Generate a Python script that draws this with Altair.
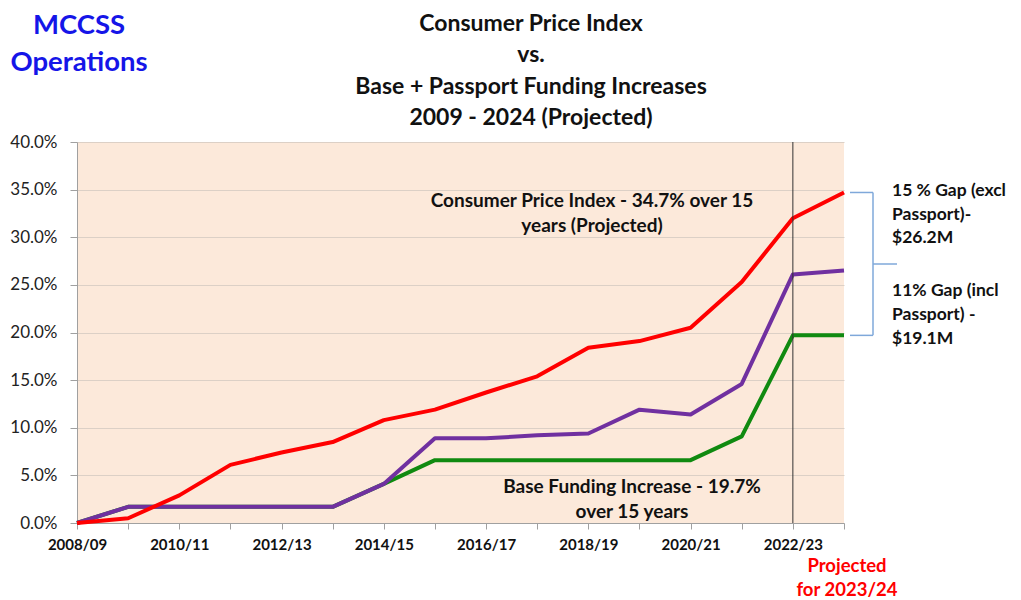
import altair as alt
import pandas as pd

years = ["2008/09", "2009/10", "2010/11", "2011/12", "2012/13", "2013/14", "2014/15", "2015/16",
         "2016/17", "2017/18", "2018/19", "2019/20", "2020/21", "2021/22", "2022/23", "2023/24"]
cpi = [0.0, 0.5, 2.9, 6.1, 7.4, 8.5, 10.8, 11.9, 13.7, 15.4, 18.4, 19.1, 20.5, 25.3, 32.0, 34.7]
base_passport = [0.0, 1.7, 1.7, 1.7, 1.7, 1.7, 4.1, 8.9, 8.9, 9.2, 9.4, 11.9, 11.4, 14.6, 26.1, 26.5]
base_funding = [0.0, 1.7, 1.7, 1.7, 1.7, 1.7, 4.1, 6.6, 6.6, 6.6, 6.6, 6.6, 6.6, 9.1, 19.7, 19.7]
series_names = ["Base Funding", "Base + Passport", "Consumer Price Index"]
series_colors = ["#108A10", "#7030A0", "#FF0000"]
y_ticks = [0, 5, 10, 15, 20, 25, 30, 35, 40]

corner_title = ["MCCSS", "Operations"]
main_title = ["Consumer Price Index", "vs.", "Base + Passport Funding Increases", "2009 - 2024 (Projected)"]
cpi_note = ["Consumer Price Index - 34.7% over 15", "years (Projected)"]
base_note = ["Base Funding Increase - 19.7%", "over 15 years"]
gap_excl = ["15 % Gap (excl", "Passport)-", "$26.2M"]
gap_incl = ["11% Gap (incl", "Passport) -", "$19.1M"]
projected_note = ["Projected", "for 2023/24"]

rows = []
for name, vals in zip(series_names, [base_funding, base_passport, cpi]):
    for yr, v in zip(years, vals):
        rows.append({"year": yr, "series": name, "value": v / 100.0})
df = pd.DataFrame(rows)

W, H = 767, 381
FONT = "Lato"

x_enc = alt.X("year:O", sort=years, title=None,
              scale=alt.Scale(type="point", padding=0),
              axis=alt.Axis(labelAngle=0, labelFont=FONT, labelFontWeight="bold", labelFontSize=15,
                            labelColor="#111", labelPadding=8, tickSize=6, tickColor="#A0A0A0",
                            domainColor="#A0A0A0",
                            labelExpr="parseInt(substring(datum.value,0,4)) % 2 == 0 ? datum.value : ''"))
y_enc = alt.Y("value:Q", title=None,
              scale=alt.Scale(domain=[0, 0.4], nice=False),
              axis=alt.Axis(format=".1%", values=[v / 100.0 for v in y_ticks], labelFont=FONT,
                            labelFontSize=17, labelColor="#222", labelPadding=13, tickSize=7,
                            tickColor="#A0A0A0", domainColor="#A0A0A0", gridColor="#DCD0C6"))

layers = []
for name, col in zip(series_names, series_colors):
    layers.append(alt.Chart(df).transform_filter(alt.datum.series == name)
                  .mark_line(strokeWidth=4, color=col, strokeJoin="round")
                  .encode(x=x_enc, y=y_enc))

vline = alt.Chart(pd.DataFrame({"year": [years[-2]]})).mark_rule(color="#333", strokeWidth=1).encode(
    x=alt.X("year:O", sort=years), y=alt.value(0), y2=alt.value(H))

ends = pd.DataFrame({"value": [cpi[-1] / 100.0, base_funding[-1] / 100.0]})
bracket_h = alt.Chart(ends).mark_rule(color="#7FA8DA", strokeWidth=1.5).encode(
    y=alt.Y("value:Q"), x=alt.value(773), x2=alt.value(796))
span = pd.DataFrame({"top": [cpi[-1] / 100.0], "bottom": [base_funding[-1] / 100.0]})
bracket_v = alt.Chart(span).mark_rule(color="#7FA8DA", strokeWidth=1.5).encode(
    y=alt.Y("top:Q"), y2="bottom:Q", x=alt.value(796))
bracket_mid = alt.Chart(span).mark_rule(color="#7FA8DA", strokeWidth=1.5).encode(
    y=alt.value(122), x=alt.value(796), x2=alt.value(820))


def text_block(lines, x, y0, dy, size, color="#111", align="center", weight="bold"):
    out = []
    for i, t in enumerate(lines):
        out.append(alt.Chart(pd.DataFrame({"t": [t]})).mark_text(
            font=FONT, fontSize=size, fontWeight=weight, color=color, align=align, baseline="middle"
        ).encode(text="t:N", x=alt.value(x), y=alt.value(y0 + i * dy)))
    return out


texts = []
texts += text_block(corner_title, 2, -116, 37, 27.5, color="#1515E8")
texts += text_block(main_title, 454, -118, 31.3, 23)
texts += text_block(cpi_note, 515, 59, 25, 19)
texts += text_block(base_note, 555, 345, 25, 19)
texts += text_block(gap_excl, 815, 49, 23.5, 17.5, align="left")
texts += text_block(gap_incl, 815, 149, 24, 17.5, align="left")
texts += text_block(projected_note, 770, 424, 24, 18.5, color="#FF0000")

chart = alt.layer(*layers, vline, bracket_h, bracket_v, bracket_mid, *texts).properties(
    width=W, height=H,
    autosize=alt.AutoSizeParams(type="none"),
    padding={"left": 69, "top": 134, "right": 169, "bottom": 77},
    background="white",
).configure_view(fill="#FCE9DA", stroke=None)

chart.save("out.html", embed_options={"renderer": "svg", "actions": False})
